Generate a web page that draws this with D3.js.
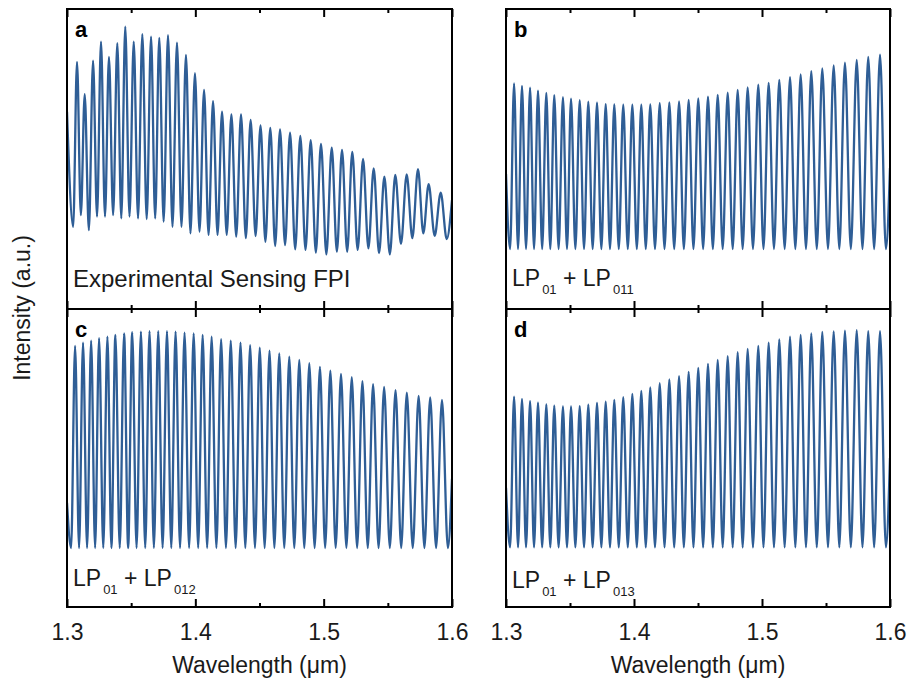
<!DOCTYPE html>
<html>
<head>
<meta charset="utf-8">
<script src="https://cdn.jsdelivr.net/npm/d3@7"></script>
<style>
  html, body { margin: 0; padding: 0; background: #fff; }
  svg { display: block; font-family: "Liberation Sans", Arial, sans-serif; }
</style>
</head>
<body>
<svg id="chart" width="911" height="687"></svg>
<script>
// ---------------- DATA ----------------
const xDomain = [1.3, 1.6];
const majorTicks = [1.3, 1.4, 1.5, 1.6];
const minorTicks = [1.35, 1.45, 1.55];
const tickLabels = ["1.3", "1.4", "1.5", "1.6"];

// panel a (experimental): peak wavelengths, peak and trough intensities
const aPeakWl = [1.3078, 1.3138, 1.3203, 1.3265, 1.3327, 1.3392, 1.3454, 1.3520, 1.3587, 1.3655,
  1.3719, 1.3787, 1.3857, 1.3927, 1.3997, 1.4068, 1.4138, 1.4208, 1.4281, 1.4356,
  1.4431, 1.4508, 1.4584, 1.4660, 1.4738, 1.4818, 1.4899, 1.4979, 1.5063, 1.5143,
  1.5223, 1.5307, 1.5390, 1.5473, 1.5558, 1.5647, 1.5735, 1.5818, 1.5912];
const aPeakI = [0.824, 0.716, 0.828, 0.891, 0.840, 0.886, 0.941, 0.891, 0.916, 0.908,
  0.904, 0.913, 0.888, 0.847, 0.786, 0.730, 0.693, 0.658, 0.649, 0.649,
  0.630, 0.612, 0.604, 0.599, 0.588, 0.577, 0.563, 0.550, 0.538, 0.530,
  0.524, 0.500, 0.469, 0.441, 0.447, 0.449, 0.466, 0.416, 0.388];
const aTroughI = [0.274, 0.313, 0.263, 0.308, 0.308, 0.313, 0.302, 0.308, 0.302, 0.300,
  0.302, 0.291, 0.274, 0.274, 0.252, 0.258, 0.247, 0.247, 0.247, 0.241,
  0.236, 0.243, 0.224, 0.210, 0.213, 0.199, 0.197, 0.188, 0.182, 0.191,
  0.191, 0.197, 0.202, 0.186, 0.182, 0.217, 0.236, 0.252, 0.244, 0.233];
const aEdgeI = [0.657, 0.363];

// panels b, c, d (simulated): common fringe peak wavelengths
const simPeakWl = [1.3063, 1.3125, 1.3188, 1.3250, 1.3315, 1.3377, 1.3445, 1.3508, 1.3576, 1.3643,
  1.3711, 1.3779, 1.3846, 1.3916, 1.3987, 1.4057, 1.4127, 1.4201, 1.4276, 1.4352,
  1.4427, 1.4502, 1.4578, 1.4654, 1.4732, 1.4810, 1.4888, 1.4971, 1.5052, 1.5135,
  1.5219, 1.5302, 1.5385, 1.5471, 1.5560, 1.5648, 1.5740, 1.5830, 1.5922];
const bPeakI = [0.752, 0.744, 0.738, 0.728, 0.720, 0.713, 0.706, 0.701, 0.696, 0.691,
  0.688, 0.683, 0.682, 0.681, 0.681, 0.681, 0.682, 0.686, 0.689, 0.692,
  0.697, 0.702, 0.708, 0.714, 0.721, 0.730, 0.739, 0.748, 0.754, 0.764,
  0.773, 0.782, 0.793, 0.802, 0.812, 0.821, 0.830, 0.840, 0.848];
const cPeakI = [0.876, 0.887, 0.894, 0.902, 0.907, 0.913, 0.918, 0.922, 0.924, 0.926,
  0.926, 0.926, 0.924, 0.921, 0.918, 0.913, 0.907, 0.899, 0.894, 0.887,
  0.879, 0.870, 0.860, 0.851, 0.840, 0.829, 0.818, 0.806, 0.793, 0.782,
  0.771, 0.758, 0.748, 0.739, 0.728, 0.719, 0.708, 0.703, 0.695];
const dPeakI = [0.706, 0.698, 0.691, 0.686, 0.680, 0.676, 0.673, 0.673, 0.674, 0.679,
  0.685, 0.689, 0.695, 0.704, 0.715, 0.725, 0.737, 0.751, 0.764, 0.775,
  0.789, 0.802, 0.816, 0.829, 0.842, 0.855, 0.866, 0.876, 0.887, 0.898,
  0.907, 0.913, 0.918, 0.923, 0.925, 0.927, 0.929, 0.926, 0.926];
const bTroughI = 0.200;
const cTroughI = 0.198;
const dTroughI = 0.200;
const bEdgeI = [0.45, 0.47];
const cEdgeI = [0.35, 0.43];
const dEdgeI = [0.40, 0.50];

const panelLetters = ["a", "b", "c", "d"];
const panelCaptions = ["Experimental Sensing FPI", null, null, null];
const subCaptions = [null, ["LP", "01", " + LP", "011"], ["LP", "01", " + LP", "012"], ["LP", "01", " + LP", "013"]];
const xTitle = "Wavelength (\u03bcm)";
const yTitle = "Intensity (a.u.)";

// ---------------- DRAWING ----------------
const svg = d3.select("#chart");
const lineColor = "#2f5e96";
const textColor = "#1a1a1a";

const cols = [{ x0: 67, x1: 452 }, { x0: 506, x1: 890 }];
const rows = [{ y0: 9, y1: 309 }, { y0: 309, y1: 607 }];

function buildSeries(peakWl, peakI, troughI, edgeI) {
  const pts = [{ wl: xDomain[0], v: edgeI[0] }];
  const n = peakWl.length;
  for (let i = 0; i < n; i++) {
    let tw;
    if (i === 0) tw = peakWl[0] - (peakWl[1] - peakWl[0]) / 2;
    else tw = (peakWl[i - 1] + peakWl[i]) / 2;
    const tv = Array.isArray(troughI) ? troughI[i] : troughI;
    pts.push({ wl: tw, v: tv });
    pts.push({ wl: peakWl[i], v: peakI[i] });
  }
  const lastT = peakWl[n - 1] + (peakWl[n - 1] - peakWl[n - 2]) / 2;
  pts.push({ wl: lastT, v: Array.isArray(troughI) ? troughI[n] : troughI });
  pts.push({ wl: xDomain[1], v: edgeI[1] });
  return pts;
}

const series = [
  buildSeries(aPeakWl, aPeakI, aTroughI, aEdgeI),
  buildSeries(simPeakWl, bPeakI, bTroughI, bEdgeI),
  buildSeries(simPeakWl, cPeakI, cTroughI, cEdgeI),
  buildSeries(simPeakWl, dPeakI, dTroughI, dEdgeI)
];

const captionBaselines = [287, 286, 586, 588];

[0, 1, 2, 3].forEach(idx => {
  const col = cols[idx % 2];
  const row = rows[Math.floor(idx / 2)];
  const x = d3.scaleLinear().domain(xDomain).range([col.x0, col.x1]);
  const y = d3.scaleLinear().domain([0, 1]).range([row.y1, row.y0]);
  const g = svg.append("g");

  const clipId = "clip" + idx;
  svg.append("clipPath").attr("id", clipId).append("rect")
    .attr("x", col.x0).attr("y", row.y0)
    .attr("width", col.x1 - col.x0).attr("height", row.y1 - row.y0);

  const line = d3.line().x(d => x(d.wl)).y(d => y(d.v)).curve(d3.curveMonotoneX);
  g.append("path")
    .datum(series[idx])
    .attr("clip-path", `url(#${clipId})`)
    .attr("fill", "none")
    .attr("stroke", lineColor)
    .attr("stroke-width", 2.3)
    .attr("stroke-linejoin", "round")
    .attr("d", line);

  // inward ticks, top and bottom
  const addTicks = (vals, size) => {
    g.append("g").attr("transform", `translate(0,${row.y0})`)
      .call(d3.axisTop(x).tickValues(vals).tickSizeInner(-size).tickSizeOuter(0).tickFormat(""))
      .call(s => s.select(".domain").remove())
      .call(s => s.selectAll("line").attr("stroke", "#000").attr("stroke-width", 2));
    g.append("g").attr("transform", `translate(0,${row.y1})`)
      .call(d3.axisBottom(x).tickValues(vals).tickSizeInner(-size).tickSizeOuter(0).tickFormat(""))
      .call(s => s.select(".domain").remove())
      .call(s => s.selectAll("line").attr("stroke", "#000").attr("stroke-width", 2));
  };
  addTicks(majorTicks, 8);
  addTicks(minorTicks, 4);

  // frame
  g.append("rect")
    .attr("x", col.x0).attr("y", row.y0)
    .attr("width", col.x1 - col.x0).attr("height", row.y1 - row.y0)
    .attr("fill", "none").attr("stroke", "#000").attr("stroke-width", 2);

  // panel letter
  g.append("text")
    .attr("x", col.x0 + 8).attr("y", row.y0 + 28)
    .attr("font-size", 22).attr("font-weight", "bold").attr("fill", "#000")
    .text(panelLetters[idx]);

  // captions
  if (panelCaptions[idx]) {
    g.append("text")
      .attr("x", col.x0 + 6).attr("y", captionBaselines[idx])
      .attr("font-size", 24).attr("fill", textColor)
      .text(panelCaptions[idx]);
  }
  if (subCaptions[idx]) {
    const parts = subCaptions[idx];
    const t = g.append("text")
      .attr("x", col.x0 + 6).attr("y", captionBaselines[idx])
      .attr("font-size", 23).attr("fill", textColor);
    parts.forEach((p, k) => {
      const sub = k % 2 === 1;
      t.append("tspan")
        .attr("font-size", sub ? 13 : 23)
        .attr("dy", sub ? 8 : (k === 0 ? 0 : -8))
        .attr("dx", sub ? 2 : 0)
        .text(p);
    });
  }

  // bottom tick labels for lower panels
  if (Math.floor(idx / 2) === 1) {
    svg.append("g").attr("transform", `translate(0,${row.y1})`)
      .call(d3.axisBottom(x).tickValues(majorTicks).tickSize(0).tickPadding(17)
        .tickFormat((d, i) => tickLabels[i]))
      .call(s => s.select(".domain").remove())
      .call(s => s.selectAll("text")
        .attr("font-size", 23)
        .attr("font-family", "'Liberation Sans', Arial, sans-serif")
        .attr("fill", textColor));
    svg.append("text")
      .attr("x", (col.x0 + col.x1) / 2).attr("y", 673)
      .attr("text-anchor", "middle").attr("font-size", 23).attr("fill", textColor)
      .text(xTitle);
  }
});

svg.append("text")
  .attr("transform", `translate(30,308) rotate(-90)`)
  .attr("text-anchor", "middle").attr("font-size", 23).attr("fill", textColor)
  .text(yTitle);
</script>
</body>
</html>
